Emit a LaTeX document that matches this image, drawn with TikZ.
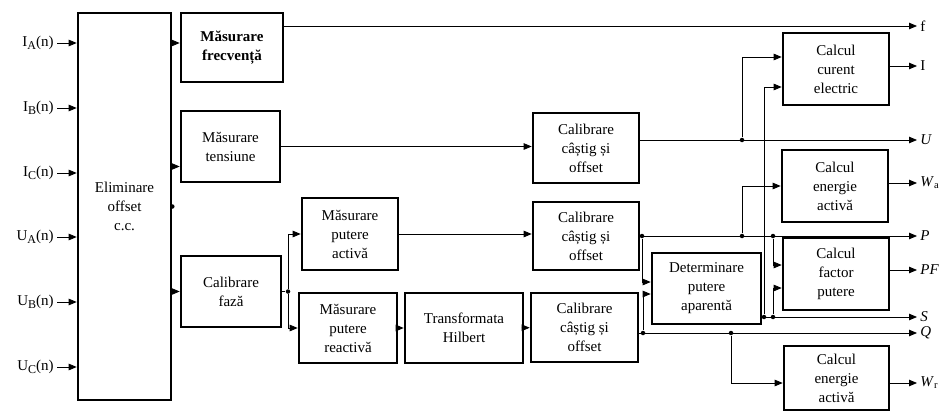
\documentclass[tikz,border=0pt]{standalone}
\usepackage{fontspec}
\setmainfont{Liberation Serif}
\usetikzlibrary{arrows.meta}

\newcommand{\insub}[1]{\raisebox{-2.5pt}{\fontsize{12}{12}\selectfont #1}}

\begin{document}
\begin{tikzpicture}[x=1pt,y=-1pt,line width=0.8pt,
  every node/.style={font=\fontsize{15}{19}\selectfont},
  blk/.style={draw,line width=2.6pt,align=center,inner sep=1pt},
  arr/.style={-{Triangle[length=8pt,width=6.5pt]}},
  dot/.style={circle,fill,inner sep=0pt,minimum size=4.5pt},
  lbl/.style={inner sep=3pt}]
\useasboundingbox (0,0) rectangle (944,412);
% processing blocks
\node[blk,minimum width=93,minimum height=387] (elim) at (124.5,206.5) {Eliminare\\offset\\c.c.};
\node[blk,minimum width=102,minimum height=69,font=\fontsize{15}{19}\selectfont\bfseries] (frecv) at (232,47.5) {Măsurare\\frecvență};
\node[blk,minimum width=99,minimum height=71] (tens) at (230.5,146.5) {Măsurare\\tensiune};
\node[blk,minimum width=100,minimum height=71] (faza) at (231,291.5) {Calibrare\\fază};
\node[blk,minimum width=96,minimum height=72] (pact) at (350,234) {Măsurare\\putere\\activă};
\node[blk,minimum width=98,minimum height=70] (preact) at (348,328) {Măsurare\\putere\\reactivă};
\node[blk,minimum width=118,minimum height=70] (hilb) at (464,328) {Transformata\\Hilbert};
\node[blk,minimum width=106,minimum height=70] (cal1) at (586,148) {Calibrare\\câștig și\\offset};
\node[blk,minimum width=106,minimum height=68] (cal2) at (586,236) {Calibrare\\câștig și\\offset};
\node[blk,minimum width=107,minimum height=69] (cal3) at (584.5,327.5) {Calibrare\\câștig și\\offset};
\node[blk,minimum width=109,minimum height=71] (det) at (706.5,288.5) {Determinare\\putere\\aparentă};
\node[blk,minimum width=106,minimum height=72] (curent) at (836,69) {Calcul\\curent\\electric};
\node[blk,minimum width=106,minimum height=72] (enact) at (835,186) {Calcul\\energie\\activă};
\node[blk,minimum width=106,minimum height=72] (fp) at (836,274) {Calcul\\factor\\putere};
\node[blk,minimum width=105,minimum height=64] (enreact) at (836.5,378) {Calcul\\energie\\activă};

% inputs
\foreach \nm/\txt/\y in {iA/I\insub{A}(n)/43, iB/I\insub{B}(n)/108, iC/I\insub{C}(n)/173,
    uA/U\insub{A}(n)/237, uB/U\insub{B}(n)/302, uC/U\insub{C}(n)/367} {
  \node[lbl,anchor=east] (\nm) at (57,\y) {\txt};
  \draw[arr] (\nm) -- (\nm -| elim.west);
}
% outputs
\foreach \nm/\txt/\y in {of/f/26, oI/I/66, oU/\textit{U}/140, oWa/\textit{W}\textsubscript{a}/183,
    oP/\textit{P}/236, oPF/\textit{PF}/270, oS/\textit{S}/317, oQ/\textit{Q}/333, oWr/\textit{W}\textsubscript{r}/383}
  \node[lbl,anchor=west] (\nm) at (917,\y) {\txt};

% offset removal outputs
\draw[arr] ([yshift=4.5pt]frecv.west -| elim.east) -- ([yshift=4.5pt]frecv.west);
\draw[arr] ([yshift=-20pt]tens.west -| elim.east) -- ([yshift=-20pt]tens.west);
\draw[arr] (elim.east |- faza) -- (faza);
\node[dot] (eldot) at (elim.east) {};

% frequency and voltage
\draw[arr] (frecv.east |- of) -- (of);
\draw[arr] (tens) -- (tens -| cal1.west);
\draw[arr] (cal1.east |- oU) -- (oU);
\node[dot] (jU) at (742,140) {};
\draw[arr] (jU) |- ([yshift=12pt]curent.west);
\draw[arr] (curent.east |- oI) -- (oI);

% phase calibration split
\node[dot] (jF) at (288,291.5) {};
\draw (faza) -- (jF);
\draw[arr] (jF) |- (pact);
\draw[arr] (jF) |- (preact);
\draw[arr] (pact) -- (pact -| cal2.west);
\draw[arr] (preact) -- (hilb);
\draw[arr] (hilb) -- (cal3);

% power lines
\draw[arr] (cal2.east |- oP) -- (oP);
\draw[arr] (cal3.east |- oQ) -- (oQ);
\draw[arr] (det.east |- oS) -- (oS);
\node[dot] (jP1) at (642,236) {};
\node[dot] (jP2) at (742,236) {};
\node[dot] (jP3) at (773,236) {};
\node[dot] (jQ1) at (643,333) {};
\node[dot] (jQ2) at (731,333) {};
\node[dot] (jS1) at (764,317) {};
\node[dot] (jS2) at (773,317) {};
\draw[arr] (jP1) |- ([yshift=6.5pt]det.west);
\draw[arr] (jQ1) |- ([yshift=-5.5pt]det.west);
\draw[arr] (jP2) |- (enact);
\draw[arr] (enact.east |- oWa) -- (oWa);
\draw[arr] (jP3) |- ([yshift=9pt]fp.west);
\draw[arr] (jS2) |- ([yshift=-14pt]fp.west);
\draw[arr] (fp.east |- oPF) -- (oPF);
\draw[arr] (jS1) |- ([yshift=-18pt]curent.west);
\draw[arr] (jQ2) |- ([yshift=-5pt]enreact.west);
\draw[arr] (enreact.east |- oWr) -- (oWr);
\end{tikzpicture}
\end{document}
